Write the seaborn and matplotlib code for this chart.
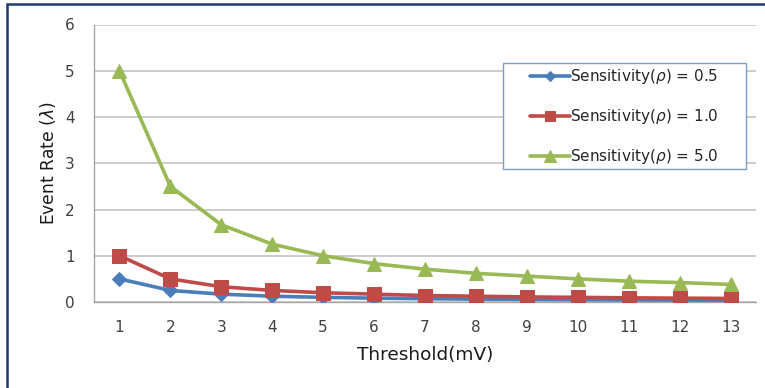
import matplotlib
matplotlib.use("Agg")
import matplotlib.pyplot as plt
import seaborn as sns
import pandas as pd
import numpy as np
from matplotlib.patches import Rectangle

thresholds = [1, 2, 3, 4, 5, 6, 7, 8, 9, 10, 11, 12, 13]
rate_05 = [0.5, 0.25, 0.17, 0.125, 0.1, 0.083, 0.071, 0.062, 0.056, 0.05, 0.045, 0.042, 0.038]
rate_10 = [1.0, 0.5, 0.33, 0.25, 0.2, 0.17, 0.14, 0.125, 0.11, 0.1, 0.09, 0.083, 0.077]
rate_50 = [5.0, 2.5, 1.67, 1.25, 1.0, 0.83, 0.71, 0.62, 0.56, 0.5, 0.45, 0.42, 0.38]
labels = [r"Sensitivity($\rho$) = 0.5", r"Sensitivity($\rho$) = 1.0", r"Sensitivity($\rho$) = 5.0"]
colors = ["#4A7EBB", "#BE4B48", "#98B954"]
markers = ["D", "s", "^"]
msizes = [7, 9.5, 10]

df = pd.concat([
    pd.DataFrame({"Threshold": thresholds, "Rate": r, "Series": lab})
    for r, lab in zip([rate_05, rate_10, rate_50], labels)
])

sns.set_theme(style="white")
plt.rcParams['font.family'] = ['DejaVu Sans']
plt.rcParams['mathtext.fontset'] = 'dejavusans'

W, H = 765, 388
fig = plt.figure(figsize=(W/100, H/100), dpi=100)
ax = fig.add_axes([94/W, 1-302/H, (756-94)/W, (302-24.5)/H])

for lab, c, m, ms in zip(labels, colors, markers, msizes):
    sns.lineplot(data=df[df["Series"] == lab], x="Threshold", y="Rate", ax=ax,
                 color=c, marker=m, markersize=ms, markeredgecolor=c,
                 linewidth=2.6, label=lab, zorder=3)

ax.set_xlim(0.5, 13.5)
ax.set_ylim(0, 6)
ax.set_yticks(range(0, 7))
ax.set_xticks(thresholds)
ax.set_xticks(np.arange(0.5, 14, 1), minor=True)
ax.tick_params(axis='x', which='major', length=0, labelsize=11, colors='#404040', pad=13)
ax.tick_params(axis='x', which='minor', length=6, width=1, color='#A6A6A6', direction='out')
ax.tick_params(axis='y', length=6, width=1, color='#A6A6A6', direction='out', labelsize=11, labelcolor='#404040', pad=8)
ax.grid(axis='y', color='#C4C4C4', linewidth=1.2)
ax.set_axisbelow(True)
for s in ['top', 'right']:
    ax.spines[s].set_visible(False)
for s in ['left', 'bottom']:
    ax.spines[s].set_color('#A6A6A6')
    ax.spines[s].set_linewidth(1)

ax.set_xlabel("Threshold(mV)", fontsize=13.3, color='#1a1a1a', labelpad=8)
ax.set_ylabel(r"Event Rate ($\lambda$)", fontsize=12.3, color='#1a1a1a', labelpad=5)

# legend box drawn as a patch behind a frameless legend
ax.add_patch(Rectangle((503/W, 1-169/H), (746-503)/W, (169-63)/H, transform=fig.transFigure,
                       facecolor='white', edgecolor='#7F9CC4', linewidth=1, zorder=4))
leg = ax.legend(loc='upper left', bbox_to_anchor=(530/W, 1-67/H), bbox_transform=fig.transFigure,
                frameon=False, fontsize=11, handlelength=2.6,
                labelspacing=1.38, borderpad=0, handletextpad=0.0, borderaxespad=0,
                markerscale=0.8)
leg.set_zorder(5)
for t in leg.get_texts():
    t.set_color('#262626')

fig.patches.append(Rectangle((7/W, -0.1), 1.2, (1 - 4/H) + 0.1, transform=fig.transFigure,
                             fill=False, edgecolor='#1F3A70', linewidth=1.8, zorder=10))

fig.savefig("out.png", dpi=100)
